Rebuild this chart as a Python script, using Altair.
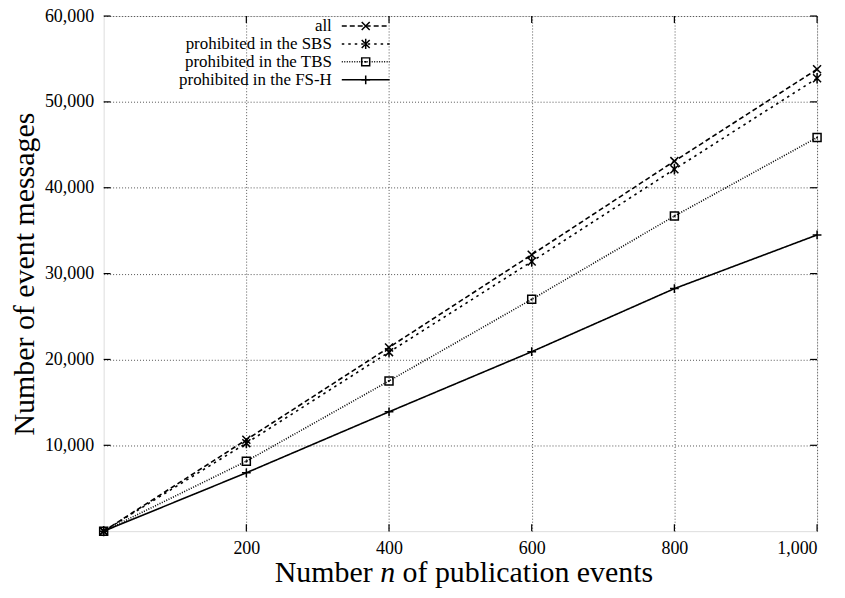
import altair as alt
import pandas as pd

# ---- data ----
x_vals = [0, 200, 400, 600, 800, 1000]
all_vals = [0, 10650, 21400, 32200, 43100, 53800]
sbs_vals = [0, 10250, 20850, 31400, 42150, 52750]
tbs_vals = [0, 8150, 17500, 27000, 36700, 45850]
fsh_vals = [0, 6800, 13900, 20900, 28250, 34500]
series_names = ["all", "prohibited in the SBS", "prohibited in the TBS", "prohibited in the FS-H"]
x_ticks = [200, 400, 600, 800, 1000]
y_ticks = [10000, 20000, 30000, 40000, 50000, 60000]

FONT = "Liberation Serif"
TOP = 7
W, H = 716, 517

rows = []
for name, vals in zip(series_names, [all_vals, sbs_vals, tbs_vals, fsh_vals]):
    for xv, yv in zip(x_vals, vals):
        rows.append({"n": xv, "msgs": yv, "series": name})
df = pd.DataFrame(rows)

dashes = [[5, 3], [2.5, 4], [1, 1.5], [1, 0]]
shape_x = "M-1,-1L1,1M-1,1L1,-1"
shape_ast = "M-1,-1L1,1M-1,1L1,-1M0,-1.3L0,1.3"
shape_sq = "M-1,-1L1,-1L1,1L-1,1Z"
shape_plus = "M-1.1,0L1.1,0M0,-1.1L0,1.1"
shapes = [shape_x, shape_ast, shape_sq, shape_plus]

xs = alt.Scale(domain=[0, 1000], nice=False, zero=False)
ys = alt.Scale(domain=[0, 60000], nice=False, zero=False)

base = alt.Chart(df)

lines = base.mark_line(color="black", strokeWidth=1.6).encode(
    x=alt.X("n:Q", scale=xs, axis=alt.Axis(
        values=x_ticks, format=",.0f", labelFontSize=18, labelPadding=8,
        ticks=False, domain=False, grid=True, gridDash=[1, 2], gridColor="#555",
        gridWidth=1, title=None, labelFont=FONT, labelColor="black")),
    y=alt.Y("msgs:Q", scale=ys, axis=alt.Axis(
        values=y_ticks, format=",.0f", labelFontSize=18, labelPadding=10,
        ticks=False, domain=False, grid=True, gridDash=[1, 2], gridColor="#555",
        gridWidth=1, title="Number of event messages", titleFontSize=30,
        titleFont=FONT, titleFontWeight="normal", titleColor="black",
        titlePadding=5, labelFont=FONT, labelColor="black")),
    strokeDash=alt.StrokeDash("series:N", scale=alt.Scale(domain=series_names, range=dashes), legend=None),
)

points = base.mark_point(color="black", filled=False, strokeWidth=1.5, size=64, opacity=1).encode(
    x=alt.X("n:Q", scale=xs),
    y=alt.Y("msgs:Q", scale=ys),
    shape=alt.Shape("series:N", scale=alt.Scale(domain=series_names, range=shapes), legend=None),
)

dots = alt.Chart(df[df["series"] == series_names[2]]).mark_square(color="black", size=3, opacity=1).encode(
    x=alt.X("n:Q", scale=xs), y=alt.Y("msgs:Q", scale=ys))

# inward tick marks on all four sides
tx = pd.DataFrame({"t": x_ticks})
ty = pd.DataFrame({"t": y_ticks})
TL = 7
tick_layers = [
    alt.Chart(tx).mark_rule(color="black", strokeWidth=1.2).encode(
        x=alt.X("t:Q", scale=xs), y=alt.value(H), y2=alt.value(H - TL)),
    alt.Chart(tx).mark_rule(color="black", strokeWidth=1.2).encode(
        x=alt.X("t:Q", scale=xs), y=alt.value(0), y2=alt.value(TL)),
    alt.Chart(ty).mark_rule(color="black", strokeWidth=1.2).encode(
        y=alt.Y("t:Q", scale=ys), x=alt.value(0), x2=alt.value(TL)),
    alt.Chart(ty).mark_rule(color="black", strokeWidth=1.2).encode(
        y=alt.Y("t:Q", scale=ys), x=alt.value(W), x2=alt.value(W - TL)),
]

# custom legend (label left, sample right)
legend_layers = []
LX_TEXT, LX0, LX1 = 229, 239, 287
for i, name in enumerate(series_names):
    ly = 10 + 18 * i
    one = pd.DataFrame({"series": [name]})
    legend_layers.append(alt.Chart(one).mark_text(
        align="right", baseline="middle", font=FONT, fontSize=17, color="black").encode(
        x=alt.value(LX_TEXT), y=alt.value(ly), text="series:N"))
    legend_layers.append(alt.Chart(one).mark_rule(
        color="black", strokeWidth=1.5, strokeDash=dashes[i]).encode(
        x=alt.value(LX0), x2=alt.value(LX1), y=alt.value(ly)))
    legend_layers.append(alt.Chart(one).mark_point(
        shape=shapes[i], color="black", filled=False, strokeWidth=1.5, size=64, opacity=1).encode(
        x=alt.value((LX0 + LX1) / 2), y=alt.value(ly)))
    if i == 2:
        legend_layers.append(alt.Chart(one).mark_square(color="black", size=3, opacity=1).encode(
            x=alt.value((LX0 + LX1) / 2), y=alt.value(ly)))

# x title with italic n
FS_T = 30
XT_Y = 568
xn = 285
xtitle = [
    alt.Chart(pd.DataFrame({"s": ["Number"]})).mark_text(
        align="right", baseline="alphabetic", font=FONT, fontSize=FS_T, color="black").encode(
        x=alt.value(xn - FS_T * 0.5), y=alt.value(XT_Y), text="s:N"),
    alt.Chart(pd.DataFrame({"s": ["n"]})).mark_text(
        align="center", baseline="alphabetic", font=FONT, fontSize=FS_T, fontStyle="italic", color="black").encode(
        x=alt.value(xn), y=alt.value(XT_Y), text="s:N"),
    alt.Chart(pd.DataFrame({"s": ["of publication events"]})).mark_text(
        align="left", baseline="alphabetic", font=FONT, fontSize=FS_T, color="black").encode(
        x=alt.value(xn + FS_T * 0.5), y=alt.value(XT_Y), text="s:N"),
]

chart = alt.layer(lines, points, dots, *tick_layers, *legend_layers, *xtitle).properties(
    width=W, height=H,
    autosize=alt.AutoSizeParams(type="none"),
    padding={"left": 96, "top": TOP, "right": 20, "bottom": 60},
).configure_view(stroke="black", strokeWidth=1.5).configure(background="white")

chart.save("out.html", embed_options={"renderer": "svg", "actions": False})
